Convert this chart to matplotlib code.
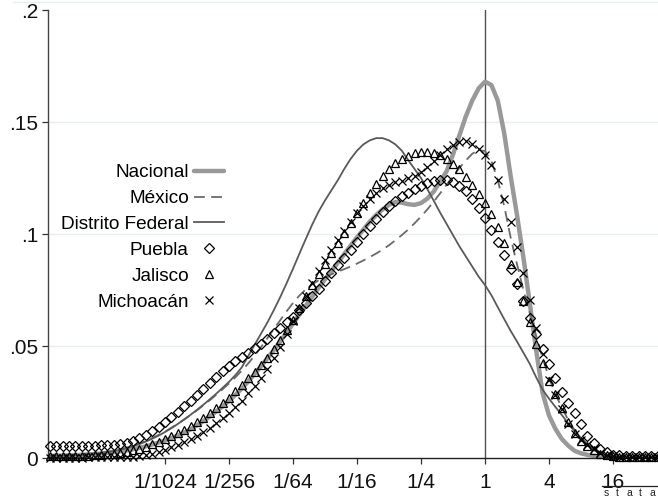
import numpy as np
import matplotlib
matplotlib.use("Agg")
import matplotlib.pyplot as plt
from matplotlib.lines import Line2D

plt.rcParams["font.family"] = ["Liberation Sans", "DejaVu Sans"]

# Evaluation grid of the kernel densities, in log2 of the ratio
log2_grid = np.round(np.arange(-13.6, 5.41, 0.2), 1)
ratio = 2.0 ** log2_grid

nacional = [
    .0010, .0010, .0011, .0012, .0013, .0014, .0016, .0018, .0020, .0023,
    .0026, .0030, .0034, .0039, .0045, .0052, .0060, .0069, .0078, .0089,
    .0100, .0113, .0128, .0146, .0165, .0186, .0208, .0231, .0255, .0282,
    .0310, .0342, .0375, .0410, .0445, .0482, .0520, .0560, .0600, .0640,
    .0680, .0720, .0760, .0798, .0835, .0872, .0910, .0948, .0985, .1020,
    .1055, .1085, .1110, .1130, .1143, .1140, .1133, .1130, .1138, .1158,
    .1190, .1235, .1280, .1355, .1440, .1525, .1595, .1650, .1680, .1665,
    .1595, .1450, .1260, .1085, .0895, .0690, .0480, .0290, .0190, .0130,
    .0085, .0055, .0032, .0021, .0014, .0009, .0006, .0004, .0003, .0002,
    .0002, .0002, .0002, .0002, .0002, .0002,
]

mexico = [
    .0010, .0011, .0012, .0013, .0014, .0016, .0018, .0021, .0024, .0028,
    .0033, .0039, .0046, .0055, .0065, .0076, .0089, .0103, .0118, .0135,
    .0153, .0172, .0192, .0213, .0235, .0258, .0282, .0307, .0333, .0360,
    .0390, .0422, .0457, .0495, .0535, .0575, .0615, .0655, .0692, .0725,
    .0753, .0775, .0793, .0808, .0820, .0832, .0843, .0855, .0868, .0882,
    .0897, .0913, .0930, .0950, .0972, .0995, .1020, .1048, .1078, .1110,
    .1145, .1182, .1220, .1258, .1295, .1328, .1358, .1375, .1370, .1325,
    .1240, .1125, .0985, .0865, .0750, .0648, .0545, .0445, .0360, .0285,
    .0225, .0170, .0125, .0090, .0062, .0040, .0025, .0015, .0009, .0006,
    .0004, .0004, .0004, .0004, .0004, .0004,
]

distrito_federal = [
    .0008, .0009, .0010, .0011, .0012, .0014, .0016, .0019, .0022, .0026,
    .0031, .0037, .0044, .0052, .0062, .0073, .0086, .0100, .0116, .0133,
    .0152, .0172, .0193, .0215, .0238, .0262, .0287, .0313, .0340, .0370,
    .0405, .0455, .0505, .0555, .0605, .0660, .0718, .0780, .0845, .0912,
    .0978, .1042, .1100, .1150, .1195, .1240, .1290, .1335, .1372, .1400,
    .1418, .1428, .1428, .1418, .1400, .1372, .1330, .1290, .1250, .1200,
    .1148, .1095, .1045, .0995, .0945, .0900, .0855, .0810, .0772, .0727,
    .0673, .0620, .0568, .0520, .0470, .0420, .0360, .0305, .0265, .0228,
    .0192, .0155, .0120, .0090, .0060, .0035, .0020, .0012, .0007, .0004,
    .0003, .0003, .0003, .0003, .0003, .0003,
]

puebla = [
    .0054, .0054, .0055, .0055, .0055, .0055, .0055, .0055, .0056, .0057,
    .0059, .0062, .0068, .0076, .0088, .0103, .0120, .0140, .0162, .0182,
    .0205, .0230, .0256, .0283, .0310, .0336, .0362, .0387, .0410, .0432,
    .0452, .0470, .0490, .0510, .0532, .0556, .0580, .0605, .0630, .0660,
    .0690, .0722, .0755, .0790, .0825, .0860, .0895, .0930, .0965, .1000,
    .1035, .1068, .1098, .1125, .1148, .1168, .1185, .1200, .1215, .1228,
    .1238, .1243, .1240, .1232, .1215, .1190, .1155, .1115, .1070, .1020,
    .0965, .0905, .0845, .0775, .0700, .0625, .0555, .0485, .0420, .0355,
    .0295, .0245, .0200, .0150, .0100, .0065, .0042, .0025, .0015, .0012,
    .0011, .0010, .0010, .0010, .0010, .0010,
]

jalisco = [
    .0008, .0008, .0008, .0009, .0009, .0010, .0011, .0012, .0014, .0016,
    .0019, .0023, .0028, .0034, .0042, .0051, .0061, .0072, .0084, .0097,
    .0111, .0126, .0142, .0160, .0180, .0200, .0222, .0245, .0270, .0297,
    .0325, .0355, .0385, .0415, .0448, .0485, .0525, .0570, .0618, .0670,
    .0722, .0772, .0820, .0868, .0915, .0960, .1005, .1050, .1095, .1140,
    .1185, .1225, .1260, .1290, .1315, .1335, .1350, .1360, .1365, .1366,
    .1362, .1352, .1336, .1314, .1288, .1255, .1218, .1180, .1140, .1090,
    .1030, .0960, .0865, .0785, .0700, .0605, .0510, .0425, .0345, .0285,
    .0225, .0160, .0110, .0076, .0052, .0036, .0020, .0012, .0008, .0006,
    .0005, .0005, .0005, .0005, .0005, .0005,
]

michoacan = [
    .0002, .0002, .0002, .0002, .0002, .0002, .0003, .0003, .0003, .0003,
    .0004, .0004, .0004, .0006, .0009, .0013, .0020, .0028, .0037, .0047,
    .0058, .0070, .0084, .0099, .0116, .0135, .0155, .0177, .0200, .0226,
    .0256, .0288, .0322, .0358, .0398, .0445, .0497, .0553, .0610, .0668,
    .0725, .0780, .0833, .0883, .0930, .0975, .1015, .1052, .1092, .1125,
    .1155, .1185, .1205, .1220, .1230, .1238, .1248, .1260, .1278, .1300,
    .1325, .1352, .1378, .1398, .1412, .1414, .1400, .1380, .1352, .1310,
    .1240, .1155, .1055, .0940, .0825, .0705, .0580, .0465, .0350, .0280,
    .0220, .0150, .0108, .0080, .0058, .0038, .0022, .0012, .0007, .0005,
    .0004, .0004, .0004, .0004, .0004, .0004,
]

x_tick_pos = [2.0 ** -10, 2.0 ** -8, 2.0 ** -6, 2.0 ** -4, 2.0 ** -2, 1, 4, 16]
x_tick_labels = ["1/1024", "1/256", "1/64", "1/16", "1/4", "1", "4", "16"]
y_tick_pos = [0, 0.05, 0.1, 0.15, 0.2]
y_tick_labels = ["0", ".05", ".1", ".15", ".2"]

fig = plt.figure(figsize=(6.58, 5.01), dpi=100)
ax = fig.add_axes([48 / 658, 43 / 501, 610 / 658, 448 / 501])
ax.set_xscale("log", base=2)
ax.set_xlim(2.0 ** -13.656, 2.0 ** 5.406)
ax.set_ylim(0, 0.2)

for v in y_tick_pos[1:4]:
    ax.axhline(v, color="#e6eef0", lw=1.0, zorder=0)
ax.axvline(1, color="#505050", lw=1.0, zorder=1)

ax.plot(ratio, nacional, color="#999999", lw=3.2, solid_capstyle="round",
        label="Nacional", zorder=2)
ax.plot(ratio, mexico, color="#6a6a6a", lw=1.3, linestyle=(0, (6, 3.5)),
        label="México", zorder=3)
ax.plot(ratio, distrito_federal, color="#5a5a5a", lw=1.3,
        label="Distrito Federal", zorder=3)
ax.plot(ratio, puebla, linestyle="none", marker="D", ms=4.8, mfc="none",
        mec="black", mew=0.9, label="Puebla", zorder=4, clip_on=False)
ax.plot(ratio, jalisco, linestyle="none", marker="^", ms=6.0, mfc="none",
        mec="black", mew=0.9, label="Jalisco", zorder=4, clip_on=False)
ax.plot(ratio, michoacan, linestyle="none", marker="x", ms=5.5,
        mec="black", mew=0.9, label="Michoacán", zorder=4, clip_on=False)

ax.set_xticks(x_tick_pos)
ax.set_xticklabels(x_tick_labels)
ax.xaxis.set_minor_locator(matplotlib.ticker.NullLocator())
ax.set_yticks(y_tick_pos)
ax.set_yticklabels(y_tick_labels)

ax.tick_params(axis="x", length=4.5, width=0.9, color="#333333", pad=6,
               labelsize=15, labelcolor="#111111")
ax.tick_params(axis="y", length=4, width=0.9, color="#333333", pad=3,
               labelsize=15, labelcolor="#111111")
for s in ("top", "right"):
    ax.spines[s].set_visible(False)
ax.spines["left"].set_color("#444444")
ax.spines["bottom"].set_color("#222222")
ax.spines["left"].set_linewidth(1.0)
ax.spines["bottom"].set_linewidth(1.0)

leg = ax.legend(loc="upper right", bbox_to_anchor=(224 / 658, 337 / 501),
                bbox_transform=fig.transFigure, frameon=False,
                markerfirst=False, fontsize=13.7, handlelength=1.6,
                handletextpad=0.25, labelspacing=0.45, borderpad=0,
                borderaxespad=0, numpoints=1)

# Faint outer frame line and the small logo
fig.add_artist(Line2D([13 / 658, 1], [499 / 501, 499 / 501],
                      color="#e6eef0", lw=1.0))
fig.add_artist(Line2D([602 / 658, 1], [15 / 501, 15 / 501],
                      color="#222222", lw=0.9))
for i, ch in enumerate("stata"):
    fig.text((606 + 11.5 * i) / 658, 3 / 501, ch, fontsize=7.5,
             ha="center", va="bottom", color="#222222")

fig.savefig("out.png", dpi=100)
